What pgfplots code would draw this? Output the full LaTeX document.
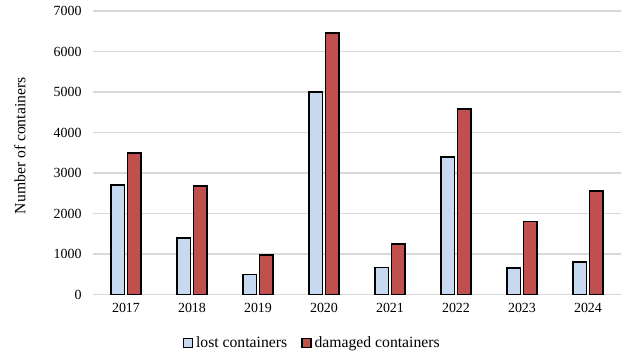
\documentclass[border=0pt]{standalone}
\usepackage{pgfplots}
\pgfplotsset{compat=1.18}
\usepackage{fontspec}
\setmainfont{Liberation Serif}
\definecolor{lostc}{HTML}{C6D9F1}
\definecolor{dmgc}{HTML}{C0504D}
\definecolor{gridc}{HTML}{D9D9D9}
\begin{document}
\begin{tikzpicture}
\begin{axis}[
  scale only axis,
  width=528bp, height=283.5bp,
  font=\fontsize{14}{16}\selectfont,
  /pgf/number format/assume math mode=true,
  /pgf/number format/1000 sep={},
  xmin=-0.5, xmax=7.5,
  ymin=0, ymax=7000,
  ytick={0,1000,...,7000},
  xtick={0,...,7},
  xticklabels={2017,2018,2019,2020,2021,2022,2023,2024},
  axis x line*=bottom,
  axis y line*=left,
  x axis line style={gridc, line width=1.2bp},
  y axis line style={draw=none},
  major tick length=0pt,
  ymajorgrids,
  major grid style={gridc, line width=1.2bp},
  yticklabel style={xshift=-8bp},
  xticklabel style={yshift=-5bp},
  ylabel={Number of containers},
  ylabel style={at={(axis description cs:0,0.5)}, anchor=base, xshift=7bp, yshift=67.5bp,
    font=\fontsize{15.75}{18}\selectfont},
  bar width=0.21,
  legend style={at={(axis description cs:0.415,0)}, anchor=center, yshift=-48.5bp,
    legend columns=2, draw=none, font=\fontsize{15.75}{18}\selectfont,
    /tikz/every odd column/.append style={column sep=1bp},
    /tikz/every even column/.append style={column sep=12bp}},
  legend image code/.code={\draw[#1, line width=1.5bp] (0bp,-4.5bp) rectangle (9bp,4.5bp);},
]
\addplot[ybar, bar shift=-0.125, fill=lostc, draw=black, line width=1.6bp]
  coordinates {(0,2700) (1,1400) (2,490) (3,5000) (4,670) (5,3400) (6,660) (7,800)};
\addlegendentry{lost containers}
\addplot[ybar, bar shift=0.125, fill=dmgc, draw=black, line width=1.6bp]
  coordinates {(0,3500) (1,2680) (2,980) (3,6450) (4,1240) (5,4580) (6,1800) (7,2560)};
\addlegendentry{damaged containers}
\end{axis}
\pgfresetboundingbox
\path (current axis.south west) ++(-93bp,-61.5bp) rectangle ++(639bp,356bp);
\end{tikzpicture}
\end{document}
